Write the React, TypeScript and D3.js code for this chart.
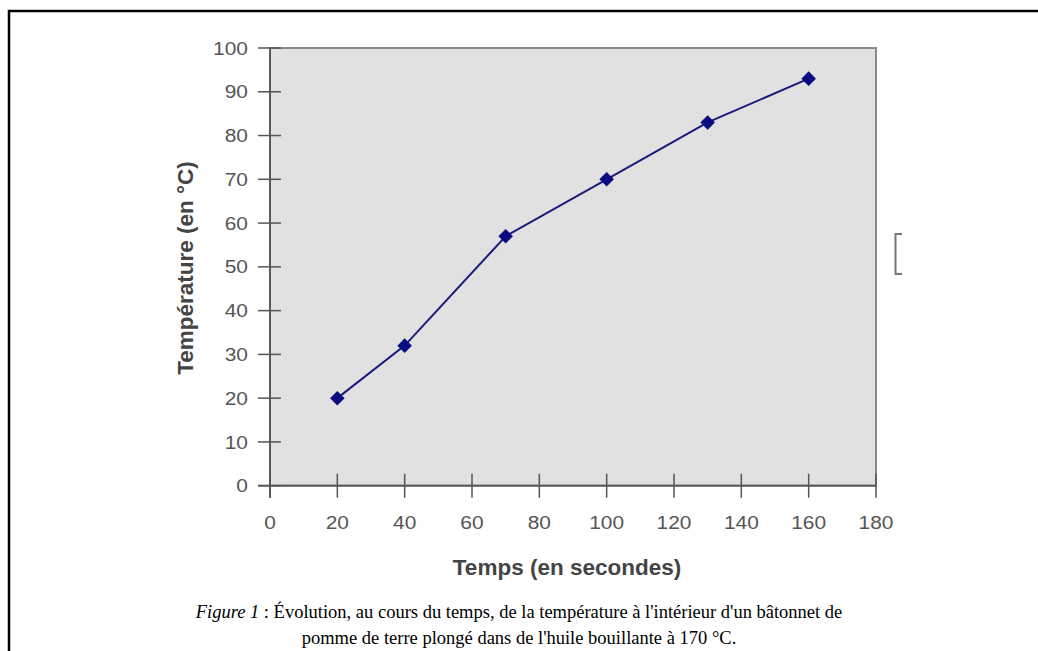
import React from "react";
import * as d3 from "d3";

const times = [20, 40, 70, 100, 130, 160];
const temps = [20, 32, 57, 70, 83, 93];
const xTicks = [0, 20, 40, 60, 80, 100, 120, 140, 160, 180];
const yTicks = [0, 10, 20, 30, 40, 50, 60, 70, 80, 90, 100];
const xTitle = "Temps (en secondes)";
const yTitle = "Température (en °C)";
const captionLead = "Figure 1";
const captionLine1 = " : Évolution, au cours du temps, de la température à l'intérieur d'un bâtonnet de";
const captionLine2 = "pomme de terre plongé dans de l'huile bouillante à 170 °C.";

export default function App() {
  const W = 1038, H = 651;
  const x = d3.scaleLinear().domain([0, 180]).range([270, 876]);
  const y = d3.scaleLinear().domain([0, 100]).range([485.7, 48]);
  const pts = times.map((t, i) => [t, temps[i]] as [number, number]);
  const line = d3.line<[number, number]>().x(d => x(d[0])).y(d => y(d[1]));
  const diamond = d3.symbol().type(d3.symbolDiamond2).size(135)();
  const sans = "'Liberation Sans', Arial, sans-serif";
  const serif = "'Liberation Serif', 'Times New Roman', serif";
  return (
    <svg width={W} height={H} style={{ position: "absolute", left: 0, top: 0, background: "#fff" }}>
      <path d={`M9,${H + 5} V11 H${W + 5}`} fill="none" stroke="#000" strokeWidth={2.5} />
      <rect x={x(0)} y={y(100)} width={x(180) - x(0)} height={y(0) - y(100)} fill="#e1e1e1" stroke="#8a8a8a" strokeWidth={2} />
      <line x1={x(0)} x2={x(0)} y1={y(100)} y2={y(0) + 12} stroke="#555" strokeWidth={1.8} />
      <line x1={x(0) - 12} x2={x(180)} y1={y(0)} y2={y(0)} stroke="#555" strokeWidth={1.8} />
      {yTicks.map(v => (
        <g key={"y" + v}>
          <line x1={x(0) - 12} x2={x(0) + 11} y1={y(v)} y2={y(v)} stroke="#555" strokeWidth={1.5} />
          <text x={248} y={y(v)} dy="0.35em" textAnchor="end" fontFamily={sans} fontSize={19} fill="#555"
            transform={`translate(248,0) scale(1.1,1) translate(-248,0)`}>{v}</text>
        </g>
      ))}
      {xTicks.map(v => (
        <g key={"x" + v}>
          <line x1={x(v)} x2={x(v)} y1={y(0) - 12} y2={y(0) + 12} stroke="#555" strokeWidth={1.5} />
          <text x={x(v)} y={522} dy="0.35em" textAnchor="middle" fontFamily={sans} fontSize={19} fill="#555"
            transform={`translate(${x(v)},0) scale(1.1,1) translate(${-x(v)},0)`}>{v}</text>
        </g>
      ))}
      <path d={line(pts) || ""} fill="none" stroke="#1a1a7a" strokeWidth={2} />
      {pts.map((p, i) => (
        <path key={i} d={diamond || ""} transform={`translate(${x(p[0])},${y(p[1])})`} fill="#0b0b80" />
      ))}
      <text x={567} y={567} dy="0.35em" textAnchor="middle" fontFamily={sans} fontSize={22.5} fontWeight="bold" fill="#444">{xTitle}</text>
      <text transform="translate(185,268) rotate(-90)" dy="0.35em" textAnchor="middle" fontFamily={sans} fontSize={22.5} fontWeight="bold" fill="#444">{yTitle}</text>
      <path d="M902,234 H895.5 V274 H902" fill="none" stroke="#777" strokeWidth={2} />
      <text x={519} y={612} dy="0.35em" textAnchor="middle" fontFamily={serif} fontSize={18.5} fill="#000">
        <tspan fontStyle="italic">{captionLead}</tspan>
        <tspan>{captionLine1}</tspan>
      </text>
      <text x={519} y={638} dy="0.35em" textAnchor="middle" fontFamily={serif} fontSize={18.5} fill="#000">{captionLine2}</text>
    </svg>
  );
}
